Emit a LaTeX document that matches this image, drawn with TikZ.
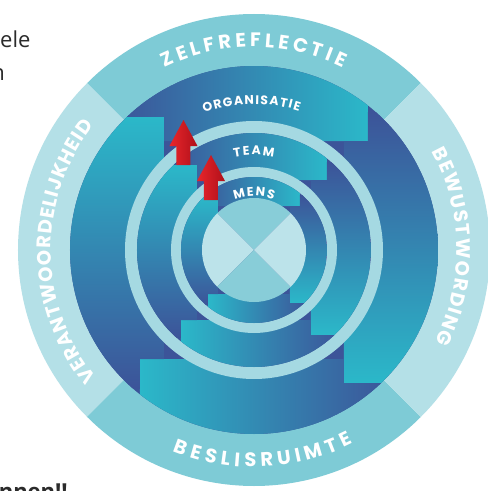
\documentclass[tikz,border=0pt]{standalone}
\usepackage{fontspec}
\usepackage{tikz}

\newfontfamily\poppins{Poppins}
\newfontfamily\opensans{Open Sans}
\newcommand{\rfont}{\poppins\bfseries\fontsize{19.5}{20}\selectfont}
\newcommand{\lfont}{\poppins\bfseries\fontsize{12.5}{13}\selectfont}

\definecolor{navy}{HTML}{3C5499}
\definecolor{stepteal}{HTML}{2BB8C9}
\definecolor{band}{HTML}{A5D9E2}
\definecolor{ringmid}{HTML}{7ECBD6}
\definecolor{ringpale}{HTML}{B4E0E7}
\definecolor{coremid}{HTML}{88CDD8}
\definecolor{corepale}{HTML}{BCE3EA}
\definecolor{redlight}{HTML}{E8262B}
\definecolor{reddark}{HTML}{B0101A}
\definecolor{ink}{HTML}{2B2B2B}

% one quarter of a band: rotation, outer radius, end, bound, end and bound of the quarter before
\newcommand{\steppiece}[6]{%
  \begin{scope}[transform canvas={rotate=#1}]
    \clip (0,0) circle (#2pt);
    \clip (-#2,#5) -- (-#6,#5) -- (-#6,#4) -- (#3,#4) -- (#3,#2) -- (-#2,#2) -- cycle;
    \shade[left color=navy, right color=stepteal] (-0.75*#2,0) rectangle (#3,#2);
  \end{scope}}
% a whole band: outer radius, end and bound across, end and bound up and down
\newcommand{\stepband}[5]{%
  \steppiece{0}{#1}{#2}{#3}{#4}{#5}
  \steppiece{-90}{#1}{#4}{#5}{#2}{#3}
  \steppiece{180}{#1}{#2}{#3}{#4}{#5}
  \steppiece{90}{#1}{#4}{#5}{#2}{#3}}
\newcommand{\uparrowat}[2]{%
  \shade[left color=redlight, right color=reddark] (#1-7,#2) -- (#1+7,#2) -- (#1+7,#2+19)
    -- (#1+14,#2+19) -- (#1,#2+45) -- (#1-14,#2+19) -- (#1-7,#2+19) -- cycle;}

% letter widths, measured before the picture: font key (r or l), letters
\newlength{\chw}
\newlength{\runw}
\newcommand{\storewidths}[2]{%
  \foreach \ch in {#2} {\settowidth{\chw}{\csname #1font\endcsname\ch}%
    \expandafter\xdef\csname w#1\ch\endcsname{\the\chw}}}
% letters spread along an arc: name, font key, radius, start angle, end angle, letters
\newcommand{\arcword}[6]{%
  \global\runw=0pt
  \foreach \ch [count=\k] in {#6} {\global\advance\runw by \csname w#2\ch\endcsname\xdef\nch{\k}}%
  \pgfmathsetmacro\dirn{sign(#5-#4)}%
  \pgfmathsetmacro\gap{(abs(#5-#4)/57.2958*#3-\runw)/(\nch-1)}%
  \global\runw=0pt
  \foreach \ch [count=\k] in {#6} {%
    \setlength{\chw}{\csname w#2\ch\endcsname}%
    \pgfmathsetmacro\ang{#4+\dirn*(\runw+0.5*\chw)/#3*57.2958}%
    \node[text=white, font=\csname #2font\endcsname, inner sep=0pt, anchor=base, rotate=\ang+\dirn*90] (#1-\k) at (\ang:#3pt) {\ch};
    \global\advance\runw by \chw\global\advance\runw by \gap pt}}

\begin{document}
\storewidths{r}{A,B,C,D,E,F,G,H,I,J,K,L,M,N,O,P,Q,R,S,T,U,V,W,X,Y,Z}%
\storewidths{l}{A,B,C,D,E,F,G,H,I,J,K,L,M,N,O,P,Q,R,S,T,U,V,W,X,Y,Z}%
\begin{tikzpicture}[%
    x=1pt, y=1pt,               % one unit is one pixel of the picture
    side/.style={font=\opensans\fontsize{22}{26}\selectfont, text=ink, inner sep=0pt}
    ]
    \useasboundingbox (-254,-241) rectangle (234,250);
    \fill[white] (-254,-241) rectangle (234,250);

    \node at (-254,203) [side, anchor=base west] (ele) {ele};
    \node at (-249,170) [side, anchor=base east] (n) {n};
    \node at (-186,-249) [side, font=\opensans\bfseries\fontsize{22}{26}\selectfont, anchor=base east] (nnen) {nnen!!};

    % outer ring
    \foreach \a/\c in {45/ringmid, 135/ringpale, 225/ringmid, 315/ringpale}
        \fill[\c] (0,0) -- (\a:236pt) arc[start angle=\a, end angle=\a+90, radius=236pt] -- cycle;

    % organisatie
    \fill[navy] (0,0) circle (184pt);
    \stepband{184}{114}{109}{133}{90}
    \fill[band] (0,0) circle (129pt);
    % team
    \fill[navy] (0,0) circle (117pt);
    \stepband{117}{73}{70}{85}{57}
    \fill[band] (0,0) circle (83pt);
    % mens
    \fill[navy] (0,0) circle (73pt);
    \stepband{73}{46}{44}{53}{36}
    \foreach \a/\c in {45/coremid, 135/corepale, 225/coremid, 315/corepale}
        \fill[\c] (0,0) -- (\a:52pt) arc[start angle=\a, end angle=\a+90, radius=52pt] -- cycle;

    \uparrowat{-70.5}{85}
    \uparrowat{-43}{50}

    \arcword{zelf}{r}{203}{116}{64}{Z,E,L,F,R,E,F,L,E,C,T,I,E}
    \arcword{bewust}{r}{203}{29}{-27}{B,E,W,U,S,T,W,O,R,D,I,N,G}
    \arcword{beslis}{r}{217}{248}{297}{B,E,S,L,I,S,R,U,I,M,T,E}
    \arcword{verant}{r}{203}{219}{142}{V,E,R,A,N,T,W,O,O,R,D,E,L,I,J,K,H,E,I,D}
    \arcword{org}{l}{146}{110}{72}{O,R,G,A,N,I,S,A,T,I,E}
    \arcword{team}{l}{95}{102}{78}{T,E,A,M}
    \arcword{mens}{l}{54}{111}{69}{M,E,N,S}
\end{tikzpicture}
\end{document}
